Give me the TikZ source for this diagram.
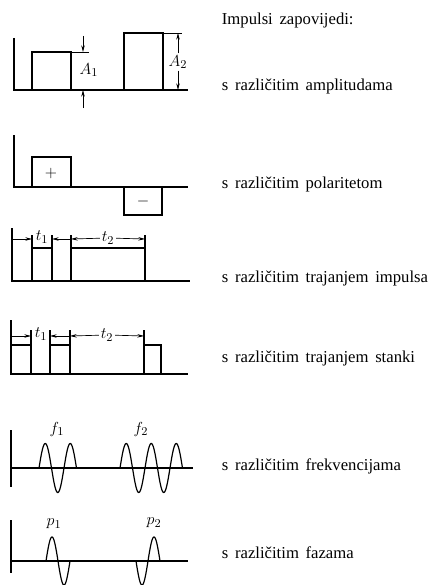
\documentclass[tikz,border=0pt]{standalone}
\usepackage{fontspec}
\setmainfont{Liberation Serif}[WordSpace=1.6]
\usetikzlibrary{arrows.meta}

\begin{document}
\begin{tikzpicture}[x=0.75pt, y=-0.75pt, line width=0.9pt,
    every node/.style={font=\fontsize{12.5}{14}\selectfont, inner sep=1pt},
    mjera/.style={line width=0.5pt, -{Stealth[length=5pt,width=2.6pt]}},
    tanka/.style={line width=0.5pt},
    opis/.style={anchor=west, font=\fontsize{12.5}{14}\selectfont}]

    \useasboundingbox (0,0) rectangle (429,585);

    % Amplitude
    \draw (14,38) -- (14,90) -- (188,90);
    \draw (32,90) -- (32,52) -- (71,52) -- (71,90);
    \draw (124,90) -- (124,33) -- (163,33) -- (163,90);
    \draw[tanka] (71,52) -- (89,52);
    \draw[tanka] (163,33) -- (182,33);
    \node (a1) at (89,70) {$A_1$};
    \draw[mjera] (83,36) -- (83,52);
    \draw[mjera] (83,108) -- (83,90);
    \node[fill=white] (a2) at (178,62) {$A_2$};
    \draw[mjera] (a2) -- (178,33);
    \draw[mjera] (a2) -- (178,90);

    % Polaritet
    \draw (14,135) -- (14,187) -- (188,187);
    \draw (32,187) -- (32,157) -- (71,157) -- (71,187);
    \draw (124,187) -- (124,215) -- (162,215) -- (162,187);
    \node (plus) at (51,173) {$+$};
    \node (minus) at (143,201) {$-$};

    % Trajanje impulsa
    \draw (12,228) -- (12,281) -- (190,281);
    \draw (32,281) -- (32,235);
    \draw (52,281) -- (52,235);
    \draw (32,248) -- (52,248);
    \draw (71,281) -- (71,235);
    \draw (145,281) -- (145,235);
    \draw (71,248) -- (145,248);
    \node (t1) at (42,237) {$t_1$};
    \draw[mjera] (13,239) -- (32,239);
    \draw[mjera] (71,239) -- (52,239);
    \node[fill=white] (t2) at (108,238) {$t_2$};
    \draw[mjera] (t2) -- (71,239);
    \draw[mjera] (t2) -- (145,239);

    % Trajanje stanki
    \draw (11,320) -- (11,374) -- (188,374);
    \draw (11,345) -- (31,345) -- (31,374);
    \draw (31,345) -- (31,330);
    \draw (50,374) -- (50,330);
    \draw (70,374) -- (70,330);
    \draw (50,345) -- (70,345);
    \draw (144,374) -- (144,330) (144,345) -- (161,345) -- (161,374);
    \node (s1) at (41,334) {$t_1$};
    \draw[mjera] (12,336) -- (31,336);
    \draw[mjera] (70,336) -- (50,336);
    \node[fill=white] (s2) at (107,335) {$t_2$};
    \draw[mjera] (s2) -- (70,336);
    \draw[mjera] (s2) -- (144,336);

    % Frekvencije
    \draw (11,430) -- (11,487);
    \draw (11,468) -- (193,468);
    \draw plot[domain=0:37.5, samples=80, smooth] ({39+\x}, {468-24.5*sin(14.4*\x)});
    \draw plot[domain=0:62.5, samples=120, smooth] ({120+\x}, {468-24.5*sin(14.4*\x)});
    \node (f1) at (57,429) {$f_1$};
    \node (f2) at (141,429) {$f_2$};

    % Faze
    \draw (11,520) -- (11,573);
    \draw (11,561) -- (188,561);
    \draw plot[domain=0:24, samples=60, smooth] ({46+\x}, {561-24*sin(15*\x)});
    \draw plot[domain=0:24, samples=60, smooth] ({136+\x}, {561+24*sin(15*\x)});
    \node (p1) at (54,524) {$p_1$};
    \node (p2) at (154,523) {$p_2$};

    % Opisi
    \node[opis] (naslov) at (220,20) {Impulsi zapovijedi:};
    \node[opis] (amp) at (220,86) {s različitim amplitudama};
    \node[opis] (pol) at (220,184) {s različitim polaritetom};
    \node[opis] (imp) at (220,278) {s različitim trajanjem impulsa};
    \node[opis] (stan) at (220,358) {s različitim trajanjem stanki};
    \node[opis] (frek) at (220,466) {s različitim frekvencijama};
    \node[opis] (faz) at (220,553) {s različitim fazama};
\end{tikzpicture}
\end{document}
